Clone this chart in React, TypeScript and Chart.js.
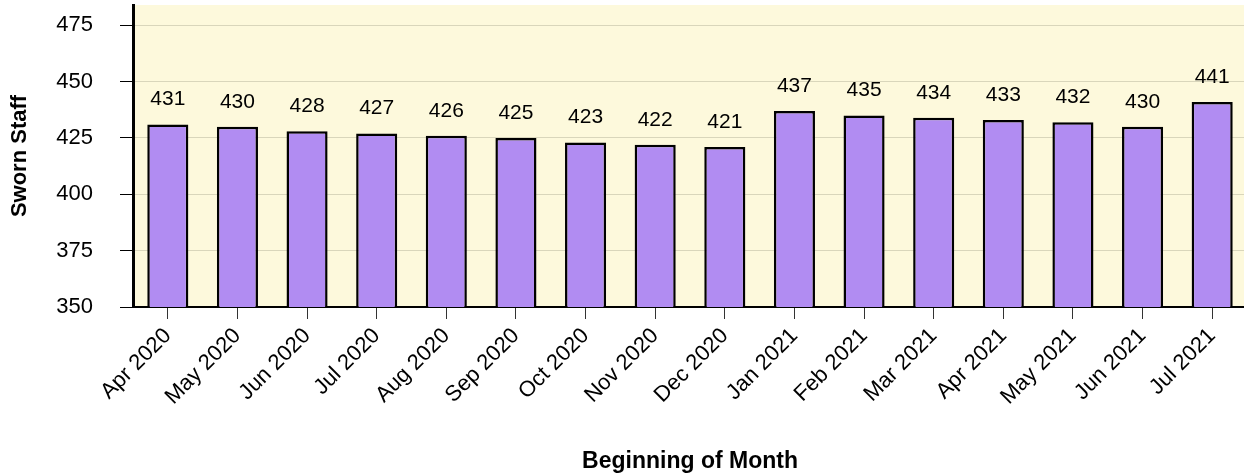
import React, { useEffect, useRef } from "react";
import { Chart, registerables } from "chart.js";

Chart.register(...registerables);

const categories = [
  "Apr 2020", "May 2020", "Jun 2020", "Jul 2020", "Aug 2020", "Sep 2020",
  "Oct 2020", "Nov 2020", "Dec 2020", "Jan 2021", "Feb 2021", "Mar 2021",
  "Apr 2021", "May 2021", "Jun 2021", "Jul 2021",
];
const swornStaff = [431, 430, 428, 427, 426, 425, 423, 422, 421, 437, 435, 434, 433, 432, 430, 441];
const yMin = 350;
const yMax = 484;
const yStep = 25;
const xTitle = "Beginning of Month";
const yTitle = "Sworn Staff";

const FONT = "'Liberation Sans', Arial, Helvetica, sans-serif";

const bgPlugin = {
  id: "plotBg",
  beforeDraw(chart: any) {
    const { ctx, chartArea } = chart;
    ctx.save();
    ctx.fillStyle = "#fdf9dc";
    ctx.fillRect(chartArea.left, chartArea.top, chartArea.right - chartArea.left, chartArea.bottom - chartArea.top);
    ctx.restore();
  },
};

const labelPlugin = {
  id: "barLabels",
  afterDatasetsDraw(chart: any) {
    const { ctx } = chart;
    const meta = chart.getDatasetMeta(0);
    const data = chart.data.datasets[0].data;
    ctx.save();
    ctx.font = `21px ${FONT}`;
    ctx.fillStyle = "#000";
    ctx.textAlign = "center";
    ctx.textBaseline = "alphabetic";
    meta.data.forEach((bar: any, i: number) => {
      ctx.fillText(String(data[i]), bar.x, bar.y - 19);
    });
    ctx.restore();
  },
};

export default function App() {
  const ref = useRef<HTMLCanvasElement>(null);
  useEffect(() => {
    document.body.style.margin = "0";
    document.body.style.overflow = "hidden";
    const chart = new Chart(ref.current!, {
      type: "bar",
      data: {
        labels: categories,
        datasets: [
          {
            data: swornStaff,
            backgroundColor: "#b18cf2",
            borderColor: "#000",
            borderWidth: 2.5,
            borderSkipped: false,
            categoryPercentage: 1,
            barPercentage: 0.59,
          },
        ],
      },
      options: {
        responsive: false,
        animation: false,
        layout: { padding: { top: 5, left: 0, right: 0, bottom: 0 } },
        plugins: { legend: { display: false }, tooltip: { enabled: false } },
        scales: {
          x: {
            grid: {
              display: true,
              drawOnChartArea: false,
              drawTicks: true,
              tickLength: 12,
              offset: false,
              tickColor: "#333",
            },
            border: { display: true, color: "#000", width: 2 },
            ticks: {
              maxRotation: 45,
              minRotation: 45,
              autoSkip: false,
              padding: 4,
              color: "#000",
              font: { size: 22, family: FONT },
            },
            title: {
              display: true,
              text: xTitle,
              color: "#000",
              font: { size: 23, weight: "bold", family: FONT },
              padding: { top: 0, bottom: 1 },
            },
            afterFit(scale: any) {
              scale.height = 169;
              scale.paddingLeft = 0;
              scale.paddingRight = 0;
            },
          },
          y: {
            min: yMin,
            max: yMax,
            grid: {
              color: "#d9d6bb",
              lineWidth: 1,
              tickLength: 13,
              tickColor: "#000",
            },
            border: { display: true, color: "#000", width: 3 },
            ticks: {
              stepSize: yStep,
              includeBounds: false,
              padding: 27,
              color: "#000",
              font: { size: 22, family: FONT },
            },
            title: {
              display: true,
              text: yTitle,
              color: "#000",
              font: { size: 22, weight: "bold", family: FONT },
              padding: { top: 7, bottom: 0 },
            },
            afterFit(scale: any) {
              scale.width = 133;
              scale.paddingTop = 0;
              scale.paddingBottom = 0;
            },
          },
        },
      } as any,
      plugins: [bgPlugin, labelPlugin],
    });
    return () => chart.destroy();
  }, []);
  return (
    <div style={{ width: 1244, height: 476, overflow: "hidden", position: "relative" }}>
      <canvas ref={ref} width={1247} height={476} style={{ display: "block", width: 1247, height: 476 }} />
    </div>
  );
}
